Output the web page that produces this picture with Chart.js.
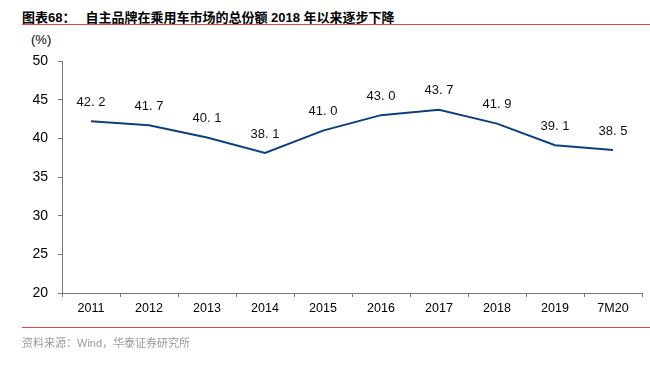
<!DOCTYPE html>
<html>
<head>
<meta charset="utf-8">
<script src="https://cdn.jsdelivr.net/npm/chart.js@4"></script>
<style>
    html, body { margin: 0; padding: 0; background: #fff; }
    body { width: 650px; height: 365px; position: relative; overflow: hidden; font-family: "Liberation Sans", Arial, sans-serif; }
    .title { position: absolute; left: 22px; top: 7px; font-size: 13px; font-weight: bold; color: #000; white-space: nowrap; font-family: "Liberation Sans", "Noto Sans CJK SC", sans-serif; }
    .title .num { margin-right: 10px; }
    .rule { position: absolute; left: 22px; right: 0; height: 1px; background: #e0463a; }
    .unit { position: absolute; left: 31px; top: 32px; font-size: 13px; color: #000; }
    .source { position: absolute; left: 22px; top: 334px; font-size: 11px; color: #9a9a9a; font-family: "Liberation Sans", "Noto Sans CJK SC", sans-serif; }
    #chart { position: absolute; left: 0; top: 0; }
</style>
</head>
<body>
<div class="title"><span class="num">图表68：</span>自主品牌在乘用车市场的总份额 2018 年以来逐步下降</div>
<div class="rule" style="top:24px"></div>
<div class="unit">(%)</div>
<canvas id="chart" width="650" height="365"></canvas>
<div class="rule" style="top:327px"></div>
<div class="source">资料来源：Wind，华泰证券研究所</div>
<script>
const categories = ['2011', '2012', '2013', '2014', '2015', '2016', '2017', '2018', '2019', '7M20'];
const shareValues = [42.2, 41.7, 40.1, 38.1, 41.0, 43.0, 43.7, 41.9, 39.1, 38.5];
const yTicks = [20, 25, 30, 35, 40, 45, 50];

const axisColor = '#777';

// draws the value above each point
const valueLabels = {
    id: 'valueLabels',
    afterDatasetsDraw(chart) {
        const ctx = chart.ctx;
        const meta = chart.getDatasetMeta(0);
        ctx.save();
        ctx.font = '13px "Liberation Sans", Arial, sans-serif';
        ctx.fillStyle = '#111';
        ctx.textAlign = 'center';
        ctx.textBaseline = 'middle';
        meta.data.forEach((pt, i) => {
            ctx.fillText(shareValues[i].toFixed(1).replace('.', '. '), pt.x, pt.y - 19);
        });
        ctx.restore();
    }
};

new Chart(document.getElementById('chart'), {
    type: 'line',
    data: {
        labels: categories,
        datasets: [{
            data: shareValues,
            borderColor: '#0d3f80',
            borderWidth: 2,
            pointRadius: 0,
            tension: 0,
            fill: false
        }]
    },
    options: {
        responsive: false,
        animation: false,
        devicePixelRatio: 1,
        layout: { padding: { top: 61, right: 8, bottom: 45, left: 0 } },
        plugins: {
            legend: { display: false },
            tooltip: { enabled: false }
        },
        scales: {
            x: {
                offset: true,
                grid: {
                    offset: true,
                    drawOnChartArea: false,
                    drawTicks: true,
                    tickLength: 4,
                    color: axisColor
                },
                border: { display: true, color: axisColor, width: 1 },
                ticks: {
                    color: '#000',
                    font: { family: '"Liberation Sans", Arial, sans-serif', size: 12.5 },
                    padding: 4,
                    maxRotation: 0,
                    autoSkip: false
                },
                afterFit(scale) { scale.height = 27; }
            },
            y: {
                min: 20,
                max: 50,
                afterBuildTicks(scale) { scale.ticks = yTicks.map(v => ({ value: v })); },
                grid: {
                    drawOnChartArea: false,
                    drawTicks: true,
                    tickLength: 4,
                    color: axisColor
                },
                border: { display: true, color: axisColor, width: 1 },
                ticks: {
                    color: '#000',
                    font: { family: '"Liberation Sans", Arial, sans-serif', size: 14 },
                    padding: 10
                },
                afterFit(scale) { scale.width = 62; }
            }
        }
    },
    plugins: [valueLabels]
});
</script>
</body>
</html>
